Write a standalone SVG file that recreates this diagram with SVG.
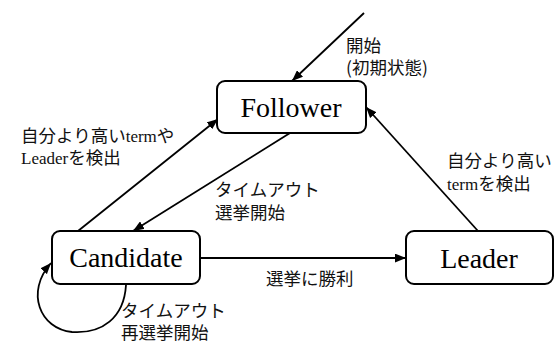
<svg xmlns="http://www.w3.org/2000/svg" width="556" height="343" viewBox="0 0 556 343">
<style>
.box{fill:#fff;stroke:#000;stroke-width:2}
.nl{font-family:"Liberation Serif","Times New Roman",serif;font-size:28px;fill:#000;text-anchor:middle}
.lb{font-family:"Noto Sans CJK JP","Noto Sans",sans-serif;font-size:17.5px;fill:#111}
.lt{font-family:"Liberation Serif","Times New Roman",serif;font-size:17px}
.cn{fill:none;stroke:#000;stroke-width:1.8}
</style>
<defs>
<marker id="ah" viewBox="0 0 10 8" refX="10" refY="4" markerWidth="11" markerHeight="9" markerUnits="userSpaceOnUse" orient="auto">
<path d="M0,0 L10,4 L0,8 Z" fill="#000"/>
</marker>
</defs>
<g id="connectors">
<line class="cn" x1="364" y1="13" x2="292" y2="81" marker-end="url(#ah)"/>
<line class="cn" x1="78" y1="231" x2="218" y2="119" marker-end="url(#ah)"/>
<line class="cn" x1="290" y1="133" x2="133" y2="231" marker-end="url(#ah)"/>
<line class="cn" x1="478" y1="231" x2="366" y2="107" marker-end="url(#ah)"/>
<line class="cn" x1="200" y1="258" x2="406" y2="258" marker-end="url(#ah)"/>
<path class="cn" d="M126,285 C124,318 102,334 72,332 C40,329 25,292 51,263" marker-end="url(#ah)"/>
</g>
<g id="follower">
<rect class="box" x="217" y="81" width="149" height="52" rx="8"/>
<text class="nl" x="291" y="117">Follower</text>
</g>
<g id="candidate">
<rect class="box" x="52" y="231" width="148" height="53" rx="8"/>
<text class="nl" x="126" y="267">Candidate</text>
</g>
<g id="leader">
<rect class="box" x="406" y="231" width="147" height="53" rx="8"/>
<text class="nl" x="479" y="268">Leader</text>
</g>
<g id="labels">
<text class="lb" x="346" y="52">開始</text>
<text class="lb" x="346" y="74">(初期状態)</text>
<text class="lb" x="21" y="142">自分より高い<tspan class="lt">term</tspan>や</text>
<text class="lb" x="21" y="164"><tspan class="lt">Leader</tspan>を検出</text>
<text class="lb" x="447" y="167">自分より高い</text>
<text class="lb" x="447" y="190"><tspan class="lt">term</tspan>を検出</text>
<text class="lb" x="215" y="196">タイムアウト</text>
<text class="lb" x="215" y="219">選挙開始</text>
<text class="lb" x="266" y="285">選挙に勝利</text>
<text class="lb" x="121" y="317">タイムアウト</text>
<text class="lb" x="121" y="339">再選挙開始</text>
</g>
</svg>
